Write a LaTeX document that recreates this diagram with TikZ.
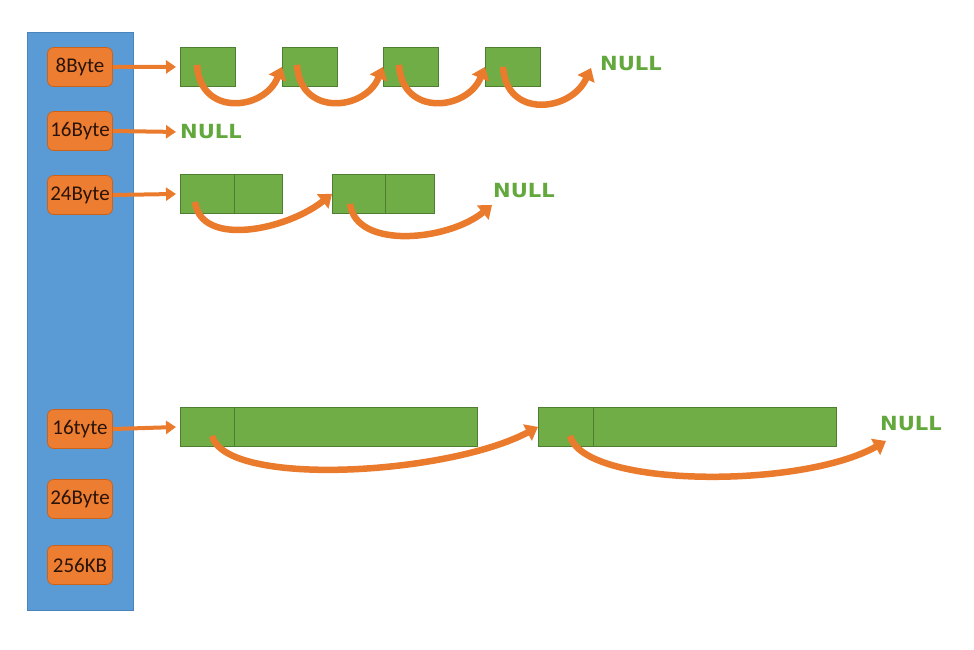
\documentclass[tikz,border=0pt]{standalone}
\usepackage{fontspec}
\newfontfamily\labfont{Carlito}
\newfontfamily\nullfam{DejaVu Sans}
\usetikzlibrary{arrows.meta,calc}
\definecolor{blueC}{HTML}{5B9BD5}
\definecolor{blueD}{HTML}{4A84BC}
\definecolor{orangeC}{HTML}{ED7D31}
\definecolor{orangeD}{HTML}{C9641F}
\definecolor{txtC}{HTML}{2A1408}
\definecolor{greenC}{HTML}{70AD47}
\definecolor{greenD}{HTML}{4E7F30}
\definecolor{nullG}{HTML}{62A83C}
\definecolor{arrC}{HTML}{EA7A2C}
\tikzset{
  memblk/.style={fill=blueC, draw=blueD, line width=0.8pt},
  szbox/.style={fill=orangeC, draw=orangeD, line width=0.8pt, rounded corners=6pt,
    minimum width=65pt, minimum height=39pt, inner sep=0pt,
    font=\labfont\fontsize{21}{21}\selectfont, text=txtC},
  cell/.style={fill=greenC, draw=greenD, line width=0.8pt, minimum height=39pt,
    inner sep=0pt, anchor=north west},
  nulltxt/.style={text=nullG, inner sep=0pt, anchor=west,
    font=\nullfam\bfseries\fontsize{19.5}{19.5}\selectfont},
  ptr/.style={draw=arrC, line width=4pt, -{Triangle[length=10pt,width=13pt]}},
  hop/.style={draw=arrC, line width=6.5pt, -{Triangle[length=12pt,width=18pt]}},
}
\newcommand{\nulltext}{\scalebox{1.08}[1]{NULL}}
\begin{document}
\begin{tikzpicture}[x=1pt,y=-1pt]
\useasboundingbox (0,0) rectangle (974,649);
% memory column
\node[memblk, minimum width=106pt, minimum height=578pt, inner sep=0pt, anchor=north west] (mem) at (27,32) {};
% size classes
\node[szbox] (s8)   at (80,67)  {8Byte};
\node[szbox] (s16)  at (80,131) {16Byte};
\node[szbox] (s24)  at (80,195) {24Byte};
\node[szbox] (s16b) at (80,429) {16tyte};
\node[szbox] (s26)  at (80,499) {26Byte};
\node[szbox] (s256) at (80,565) {256KB};

% row 1
\node[cell, minimum width=55pt] (a1) at (180,47) {};
\node[cell, minimum width=55pt] (a2) at (282,47) {};
\node[cell, minimum width=55pt] (a3) at (383,47) {};
\node[cell, minimum width=55pt] (a4) at (485,47) {};
\node[nulltxt] (n1) at (600,64) {\nulltext};
\coordinate (e1) at (591,68);

% row 2
\node[nulltxt] (n2) at (180,132) {\nulltext};

% row 3
\node[cell, minimum width=54pt] (b1) at (180,174) {};
\node[cell, minimum width=48pt] (b1r) at (234,174) {};
\node[cell, minimum width=53pt] (b2) at (332,174) {};
\node[cell, minimum width=49pt] (b2r) at (385,174) {};
\node[nulltxt] (n3) at (493,191) {\nulltext};
\coordinate (e3) at (492,205);

% row 4
\node[cell, minimum width=54pt] (c1) at (180,407) {};
\node[cell, minimum width=243pt] (c1r) at (234,407) {};
\node[cell, minimum width=55pt] (c2) at (538,407) {};
\node[cell, minimum width=243pt] (c2r) at (593,407) {};
\node[nulltxt] (n4) at (880,424) {\nulltext};
\coordinate (e4) at (886,441);

% straight pointers
\draw[ptr, shorten >=4pt] (s8.east) -- (a1.west);
\draw[ptr, shorten >=4pt] (s16.east) -- (n2.west);
\draw[ptr, shorten >=4pt] (s24.east) -- (b1.west);
\draw[ptr, shorten >=4pt] (s16b.east) -- (c1.west);

% row 1 hops
\draw[hop] ($(a1.west)+(17,-2)$) .. controls +(3,52) and +(-18,44) .. (a2.west);
\draw[hop] ($(a2.west)+(15,-2)$) .. controls +(3,52) and +(-18,44) .. (a3.west);
\draw[hop] ($(a3.west)+(16,-2)$) .. controls +(3,52) and +(-18,44) .. (a4.west);
\draw[hop] ($(a4.west)+(18,0)$) .. controls +(3,52) and +(-20,44) .. (e1);

% row 3 hops
\draw[hop] ($(b1.west)+(15,8)$) .. controls +(6,46) and +(-45,36) .. (b2.west);
\draw[hop] ($(b2.west)+(18,10)$) .. controls +(6,46) and +(-44,36) .. (e3);

% row 4 hops
\draw[hop] ($(c1.west)+(32,9)$) .. controls +(14,52) and +(-90,48) .. (c2.west);
\draw[hop] ($(c2.west)+(32,9)$) .. controls +(14,52) and +(-85,48) .. (e4);
\end{tikzpicture}
\end{document}
